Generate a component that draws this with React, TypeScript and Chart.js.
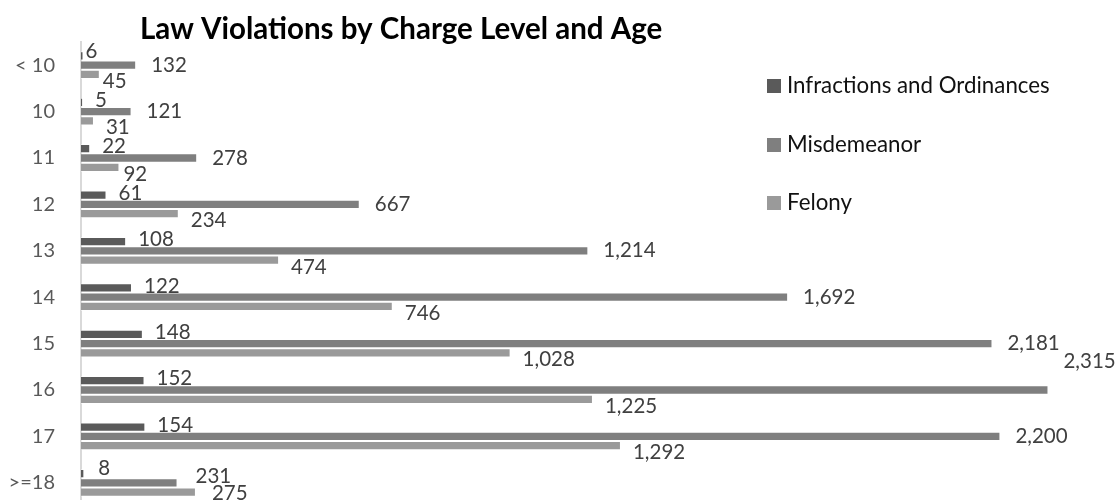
import React, { useEffect, useRef } from "react";
import { Chart, registerables } from "chart.js";

Chart.register(...registerables);

const TITLE = "Law Violations by Charge Level and Age";
const AGE_GROUPS = ["< 10", "10", "11", "12", "13", "14", "15", "16", "17", ">=18"];
const SERIES_NAMES = ["Infractions and Ordinances", "Misdemeanor", "Felony"];
const INFRACTIONS = [6, 5, 22, 61, 108, 122, 148, 152, 154, 8];
const MISDEMEANOR = [132, 121, 278, 667, 1214, 1692, 2181, 2315, 2200, 231];
const FELONY = [45, 31, 92, 234, 474, 746, 1028, 1225, 1292, 275];

const COLORS = ["#5a5a5a", "#7f7f7f", "#9a9a9a"];
const FONT = "Lato, 'Open Sans', sans-serif";

const LABEL_GAP = [12, 15, 12];
const LABEL_DY = [-2, 0, 7];
const LABEL_NUDGE: Record<string, [number, number]> = {
  "1-7": [0, -29],
  "0-0": [-10, -3],
  "2-0": [-9, 0],
  "2-2": [-8, 0],
  "0-9": [2, -3],
  "1-9": [3, -6],
  "2-9": [4, -6],
};

const fmt = (v: number) => v.toLocaleString("en-US");

const overlayPlugin = {
  id: "overlay",
  afterDatasetsDraw(chart: any) {
    const ctx = chart.ctx;
    ctx.save();
    ctx.font = `20.5px ${FONT}`;
    ctx.fillStyle = "#404040";
    ctx.textAlign = "left";
    ctx.textBaseline = "middle";
    chart.data.datasets.forEach((ds: any, si: number) => {
      const meta = chart.getDatasetMeta(si);
      meta.data.forEach((bar: any, i: number) => {
        const nudge = LABEL_NUDGE[`${si}-${i}`] || [0, 0];
        const x = bar.x + LABEL_GAP[si] + nudge[0];
        const y = bar.y + LABEL_DY[si] + nudge[1];
        ctx.fillText(fmt(ds.data[i]), x, y);
      });
    });
    ctx.font = `bold 29.5px ${FONT}`;
    ctx.fillStyle = "#000000";
    ctx.fillText(TITLE, 140, 29);
    const legendY = [86, 145, 203];
    ctx.font = `22.3px ${FONT}`;
    SERIES_NAMES.forEach((name, i) => {
      ctx.fillStyle = COLORS[i];
      ctx.fillRect(767, legendY[i] - 7, 14, 14);
      ctx.fillStyle = "#111111";
      ctx.fillText(name, 787, legendY[i]);
    });
    ctx.restore();
  },
};

export default function App() {
  const ref = useRef<HTMLCanvasElement | null>(null);
  useEffect(() => {
    if (!ref.current) return;
    const chart = new Chart(ref.current, {
      type: "bar",
      data: {
        labels: AGE_GROUPS,
        datasets: [INFRACTIONS, MISDEMEANOR, FELONY].map((d, i) => ({
          label: SERIES_NAMES[i],
          data: d,
          backgroundColor: COLORS[i],
          borderColor: "rgba(255,255,255,0.5)",
          borderWidth: 1,
          categoryPercentage: 0.6,
          barPercentage: 1,
        })),
      },
      options: {
        indexAxis: "y",
        animation: false,
        responsive: true,
        maintainAspectRatio: false,
        layout: { padding: { top: 42, bottom: 2, left: 0, right: 36 } },
        plugins: {
          legend: { display: false },
          title: { display: false },
          tooltip: { enabled: false },
        },
        scales: {
          x: { display: false, min: 0, max: 2400 },
          y: {
            afterFit: (scale: any) => {
              scale.width = 81;
            },
            grid: { display: false },
            border: { display: true, color: "#d9d9d9", width: 2 },
            ticks: {
              color: "#595959",
              padding: 18,
              font: { family: FONT, size: 20 },
            },
          },
        },
      },
      plugins: [overlayPlugin],
    });
    return () => chart.destroy();
  }, []);
  return (
    <div style={{ position: "fixed", left: 0, top: 0, width: 1120, height: 500, overflow: "hidden", background: "#fff" }}>
      <div style={{ position: "relative", width: 1120, height: 536 }}>
        <canvas ref={ref} />
      </div>
    </div>
  );
}
